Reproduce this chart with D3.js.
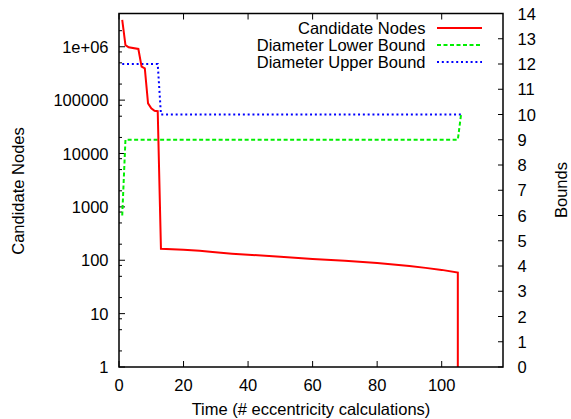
<!DOCTYPE html>
<html><head><meta charset="utf-8">
<script src="https://cdn.jsdelivr.net/npm/d3@7"></script>
<style>
body{margin:0;background:#fff;}
text{font-family:"Liberation Sans",Arial,Helvetica,sans-serif;fill:#000;}
</style></head><body>
<svg id="c" width="571" height="419"></svg>
<script>
// ---- data ----
const candX = [1, 2, 3, 6, 7, 8, 9, 10, 11, 12, 13, 20, 25, 29, 35, 40, 50, 60, 70, 80, 90, 95, 100, 105, 105];
const candY = [3.2e6, 1.07e6, 9.8e5, 9.1e5, 4.25e5, 3.95e5, 8.7e4, 7.0e4, 6.3e4, 6.2e4, 164, 157, 151, 143, 133, 127, 116, 106, 98, 88.5, 78, 72, 66, 59, 1];
const lowerX = [1, 2, 105, 106];
const lowerY = [6, 9, 9, 10];
const upperX = [1, 12, 13, 106];
const upperY = [12, 12, 10, 10];
const seriesNames = ["Candidate Nodes", "Diameter Lower Bound", "Diameter Upper Bound"];
const xTicks = [0, 20, 40, 60, 80, 100];
const yTicks = [1, 10, 100, 1000, 10000, 100000, 1000000];
const yTickLabels = ["1", "10", "100", "1000", "10000", "100000", "1e+06"];
const y2Ticks = [0,1,2,3,4,5,6,7,8,9,10,11,12,13,14];
const xTitle = "Time (# eccentricity calculations)";
const yTitle = "Candidate Nodes";
const y2Title = "Bounds";

// ---- layout ----
const L = 119, R = 503, T = 13.5, B = 367;
const FS = 16.5;
const svg = d3.select("#c");
const x = d3.scaleLinear().domain([0, 119]).range([L, R]);
const y = d3.scaleLog().domain([1, 4.2e6]).range([B, T]);
const y2 = d3.scaleLinear().domain([0, 14]).range([B, T]);

svg.append("defs").append("clipPath").attr("id","clip")
  .append("rect").attr("x",L).attr("y",T).attr("width",R-L).attr("height",B-T);

// ticks
const tk = svg.append("g").attr("stroke","#000").attr("stroke-width",1);
xTicks.forEach(v=>{
  tk.append("line").attr("x1",x(v)).attr("x2",x(v)).attr("y1",B).attr("y2",B-6);
  tk.append("line").attr("x1",x(v)).attr("x2",x(v)).attr("y1",T).attr("y2",T+6);
});
yTicks.forEach(v=>{
  tk.append("line").attr("x1",L).attr("x2",L+6).attr("y1",y(v)).attr("y2",y(v));
});
// minor log ticks
const minorMult = [2,5,8];
for (let d=1; d<=1e6; d*=10){
  minorMult.forEach(m=>{
    const v=d*m;
    if (v<=4.2e6) tk.append("line").attr("x1",L).attr("x2",L+3).attr("y1",y(v)).attr("y2",y(v));
  });
}
y2Ticks.forEach(v=>{
  tk.append("line").attr("x1",R).attr("x2",R-5).attr("y1",y2(v)).attr("y2",y2(v));
});

// tick labels
const lab = svg.append("g").attr("font-size",FS);
xTicks.forEach(v=>{
  lab.append("text").attr("x",x(v)).attr("y",390.5).attr("text-anchor","middle").text(v);
});
yTicks.forEach((v,i)=>{
  lab.append("text").attr("x",108.5).attr("y",y(v)+6).attr("text-anchor","end").text(yTickLabels[i]);
});
y2Ticks.forEach(v=>{
  lab.append("text").attr("x",517.5).attr("y",y2(v)+6).attr("text-anchor","start").text(v);
});

// titles
svg.append("text").attr("font-size",FS).attr("x",(L+R)/2).attr("y",415).attr("text-anchor","middle").text(xTitle);
svg.append("text").attr("font-size",FS).attr("transform","translate(24,191) rotate(-90)").attr("text-anchor","middle").text(yTitle);
svg.append("text").attr("font-size",FS).attr("transform","translate(567,190) rotate(-90)").attr("text-anchor","middle").text(y2Title);

// lines
const g = svg.append("g").attr("clip-path","url(#clip)");
const lineLog = d3.line().x(d=>x(d[0])).y(d=>y(d[1]));
const lineLin = d3.line().x(d=>x(d[0])).y(d=>y2(d[1]));
const styles = [
  {c:"#ff0000", dash:null},
  {c:"#00ee00", dash:"4,2.5"},
  {c:"#0000ff", dash:"2,2.8"}
];
g.append("path").attr("d", lineLin(upperX.map((v,i)=>[v,upperY[i]])))
  .attr("fill","none").attr("stroke",styles[2].c).attr("stroke-width",2).attr("stroke-dasharray",styles[2].dash);
g.append("path").attr("d", lineLin(lowerX.map((v,i)=>[v,lowerY[i]])))
  .attr("fill","none").attr("stroke",styles[1].c).attr("stroke-width",2).attr("stroke-dasharray",styles[1].dash);
g.append("path").attr("d", lineLog(candX.map((v,i)=>[v,candY[i]])))
  .attr("fill","none").attr("stroke",styles[0].c).attr("stroke-width",2);

// border
svg.append("rect").attr("x",L).attr("y",T).attr("width",R-L).attr("height",B-T)
  .attr("fill","none").attr("stroke","#000").attr("stroke-width",1.5);

// legend
const legY = [28, 45, 62];
seriesNames.forEach((n,i)=>{
  svg.append("text").attr("font-size",FS).attr("x",425.5).attr("y",legY[i]+6).attr("text-anchor","end").text(n);
  const ln = svg.append("line").attr("x1",437).attr("x2",482).attr("y1",legY[i]).attr("y2",legY[i])
    .attr("stroke",styles[i].c).attr("stroke-width",2);
  if (styles[i].dash) ln.attr("stroke-dasharray",styles[i].dash);
});
</script>
</body></html>
